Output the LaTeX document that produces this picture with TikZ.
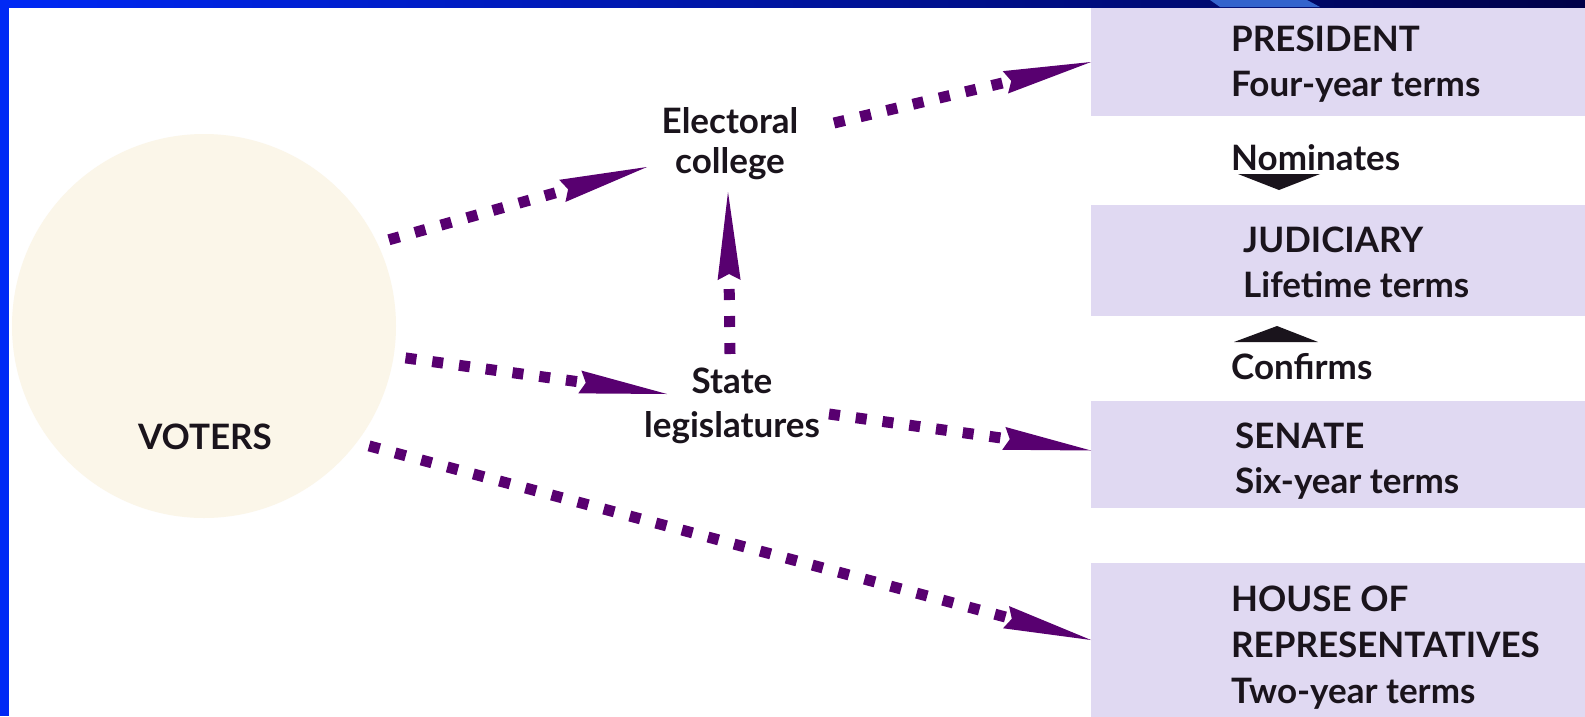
\documentclass[tikz,border=0pt]{standalone}
\usepackage{fontspec}
\setmainfont{Lato}
\usetikzlibrary{arrows.meta,calc}
\definecolor{barleft}{RGB}{0,41,245}
\definecolor{barright}{RGB}{0,0,72}
\definecolor{wedgeblue}{RGB}{52,100,205}
\definecolor{sideblue}{RGB}{0,41,245}
\definecolor{boxlav}{RGB}{224,217,242}
\definecolor{votercream}{RGB}{251,246,233}
\definecolor{arrowpurple}{RGB}{88,0,112}
\definecolor{inkblack}{RGB}{26,20,28}
\begin{document}
\begin{tikzpicture}[x=1pt,y=-1pt,
  govbox/.style={rectangle, fill=boxlav, inner sep=0pt, outer sep=0pt, anchor=north west, minimum width=494pt},
  boxtext/.style={font=\fontsize{35}{45}\selectfont\bfseries, text=inkblack, align=left, inner sep=0pt, anchor=north west},
  midtext/.style={font=\fontsize{35}{44}\selectfont\bfseries, text=inkblack, align=center, inner sep=0pt},
  smalltext/.style={font=\fontsize{35}{44}\selectfont\bfseries, text=inkblack, inner sep=0pt, anchor=base west},
  conn/.style={draw=arrowpurple, line width=11pt, dash pattern=on 11pt off 16pt, -{Stealth[length=88pt,width=23pt,inset=6pt,line width=0pt]}},
  tiphead/.style={fill=inkblack}
]
\useasboundingbox (0,0) rectangle (1585,716);
\fill[white] (0,0) rectangle (1585,716);
% frame
\shade[left color=barleft, right color=barright] (0,0) rectangle (1585,7);
\fill[wedgeblue] (1210,0) -- (1307,0) -- (1320,7) -- (1220,7) -- cycle;
\fill[sideblue] (0,0) rectangle (9,716);

% boxes
\node[govbox, minimum height=108pt] (pres) at (1091,8) {};
\node[govbox, minimum height=111pt] (jud) at (1091,205) {};
\node[govbox, minimum height=107pt] (sen) at (1091,401) {};
\node[govbox, minimum height=154pt] (house) at (1091,563) {};

\node[boxtext] (prestext) at (1231,26) {PRESIDENT\\Four-year terms};
\node[boxtext] (judtext) at (1243,227) {JUDICIARY\\Lifetime terms};
\node[boxtext] (sentext) at (1235,423) {SENATE\\Six-year terms};
\node[boxtext, font=\fontsize{35}{46}\selectfont\bfseries] (housetext) at (1231,586) {HOUSE OF\\REPRESENTATIVES\\Two-year terms};

\node[smalltext] (nom) at (1231,170) {Nominates};
\node[smalltext] (conf) at (1231,379) {Confirms};
\fill[tiphead] ($(nom.base west)+(7,4)$) -- ($(nom.base west)+(89,4)$) -- ($(nom.base west)+(48,20)$) -- cycle;
\fill[tiphead] ($(conf.base west)+(3,-37)$) -- ($(conf.base west)+(87,-37)$) -- ($(conf.base west)+(46,-53)$) -- cycle;

% voters
\node[circle, fill=votercream, minimum size=384pt, inner sep=0pt, outer sep=12pt] (voters) at (204,326) {};
\node[midtext] (voterstext) at (205,437) {VOTERS};

\node[midtext, font=\fontsize{35}{40}\selectfont\bfseries] (ec) at (730,144) {Electoral\\college};
\node[midtext] (sl) at (732,406) {State\\legislatures};

% connectors
\draw[conn] (voters.25) -- ($(ec.center)+(-83,23)$);
\draw[conn] ($(ec.center)+(104,-21)$) -- (pres.west);
\draw[conn] ($(sl.center)+(-2,-52)$) -- ($(ec.center)+(-2,48)$);
\draw[conn] (voters.-9) -- ($(sl.center)+(-65,-12)$);
\draw[conn] ($(sl.center)+(97,8)$) -- ($(sen.west)+(0,-4)$);
\draw[conn] (voters.-36) -- (house.west);
\end{tikzpicture}
\end{document}
